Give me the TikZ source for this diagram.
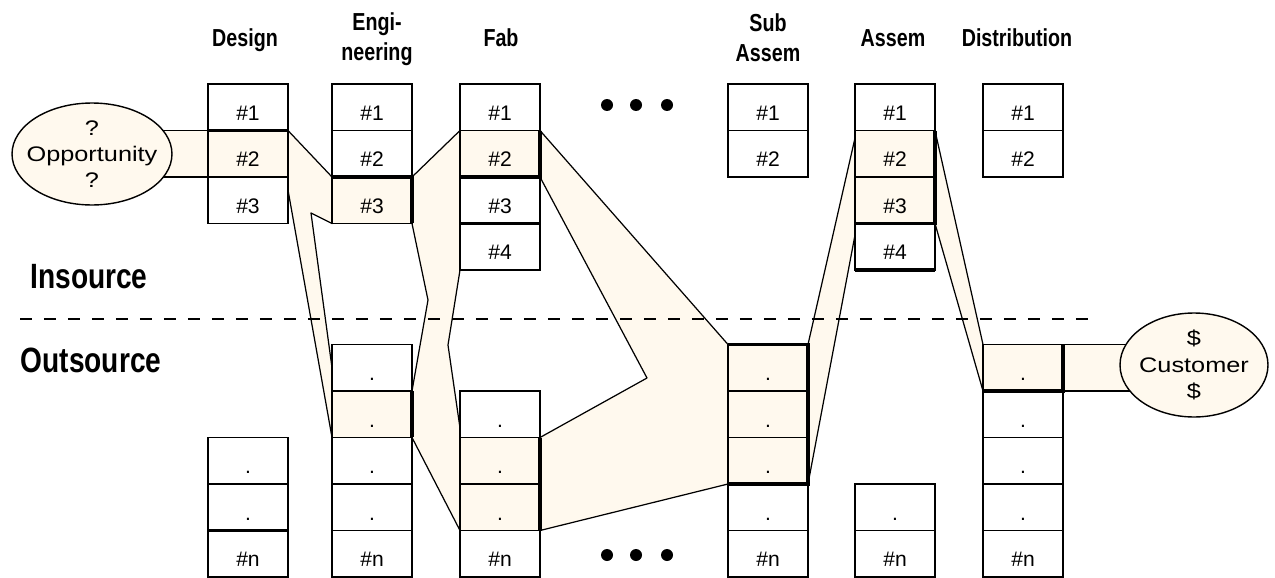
\documentclass[tikz,border=0pt]{standalone}
\usepackage{fontspec}
\setmainfont{Liberation Sans}
\newfontfamily\headfont{Liberation Sans}[FakeStretch=0.8]
\newfontfamily\ovalfont{Liberation Sans}[FakeStretch=1.2]
\usetikzlibrary{shapes.geometric,backgrounds}
\definecolor{cream}{HTML}{FFF9EE}

\begin{document}
\begin{tikzpicture}[x=0.02cm,y=-0.02cm,
  cell/.style={draw,line width=0.9pt,minimum width=1.6cm,minimum height=0.93cm,inner sep=0pt,outer sep=0pt,
    text height=15pt,text depth=0pt,font=\fontsize{12}{14}\selectfont},
  hot/.style={cell,fill=cream},
  flow/.style={fill=cream,draw,line width=0.7pt,line join=round},
  flowline/.style={line width=0.7pt},
  hi/.style={line width=2pt},
  head/.style={font=\headfont\bfseries\fontsize{14}{17}\selectfont,align=center},
  side/.style={font=\headfont\bfseries\fontsize{20}{24}\selectfont,anchor=base},
  oval/.style={ellipse,draw,line width=0.8pt,fill=cream,inner sep=-6pt,align=center,
    font=\ovalfont\fontsize{12}{15}\selectfont}]
\useasboundingbox (0,0) rectangle (1275,578);

% headings
\node[head,anchor=base] (hdes) at (245,47) {Design};
\node[head] (heng) at (377,39) {Engi-\\neering};
\node[head,anchor=base] (hfab) at (501,47) {Fab};
\node[head] (hsub) at (768,38) {Sub\\Assem};
\node[head,anchor=base] (hasm) at (893,47) {Assem};
\node[head,anchor=base] (hdst) at (1017,47) {Distribution};
\node[side] (ins) at (89,288) {Insource};
\node[side] (outs) at (91,372) {Outsource};

% design
\node[cell] (des1) at (248,107.25) {\#1};
\node[hot]  (des2) at (248,153.75) {\#2};
\node[cell] (des3) at (248,200.25) {\#3};
\node[cell] (desb1) at (248,460.75) {.};
\node[cell] (desb2) at (248,507.25) {.};
\node[cell] (desb3) at (248,553.75) {\#n};
% engineering
\node[cell] (eng1) at (372,107.25) {\#1};
\node[cell] (eng2) at (372,153.75) {\#2};
\node[hot]  (eng3) at (372,200.25) {\#3};
\node[cell] (engb1) at (372,367.75) {.};
\node[hot]  (engb2) at (372,414.25) {.};
\node[cell] (engb3) at (372,460.75) {.};
\node[cell] (engb4) at (372,507.25) {.};
\node[cell] (engb5) at (372,553.75) {\#n};
% fab
\node[cell] (fab1) at (500,107.25) {\#1};
\node[hot]  (fab2) at (500,153.75) {\#2};
\node[cell] (fab3) at (500,200.25) {\#3};
\node[cell] (fab4) at (500,246.75) {\#4};
\node[cell] (fabb1) at (500,414.25) {.};
\node[hot]  (fabb2) at (500,460.75) {.};
\node[hot]  (fabb3) at (500,507.25) {.};
\node[cell] (fabb4) at (500,553.75) {\#n};
% sub assem
\node[cell] (sub1) at (768,107.25) {\#1};
\node[cell] (sub2) at (768,153.75) {\#2};
\node[hot]  (subb1) at (768,367.75) {.};
\node[hot]  (subb2) at (768,414.25) {.};
\node[hot]  (subb3) at (768,460.75) {.};
\node[cell] (subb4) at (768,507.25) {.};
\node[cell] (subb5) at (768,553.75) {\#n};
% assem
\node[cell] (asm1) at (895,107.25) {\#1};
\node[hot]  (asm2) at (895,153.75) {\#2};
\node[hot]  (asm3) at (895,200.25) {\#3};
\node[cell] (asm4) at (895,246.75) {\#4};
\node[cell] (asmb1) at (895,507.25) {.};
\node[cell] (asmb2) at (895,553.75) {\#n};
% distribution
\node[cell] (dst1) at (1023,107.25) {\#1};
\node[cell] (dst2) at (1023,153.75) {\#2};
\node[hot]  (dstb1) at (1023,367.75) {.};
\node[cell] (dstb2) at (1023,414.25) {.};
\node[cell] (dstb3) at (1023,460.75) {.};
\node[cell] (dstb4) at (1023,507.25) {.};
\node[cell] (dstb5) at (1023,553.75) {\#n};

% ends
\node[oval,minimum width=3.2cm,minimum height=2.04cm] (opp) at (92,154) {?\\Opportunity\\?};
\node[oval,minimum width=2.96cm,minimum height=2.08cm] (cus) at (1194,365) {\$\\Customer\\\$};

\begin{pgfonlayer}{background}
% opportunity -> design
\fill[cream] (opp.center |- des2.north) rectangle (des2.south west);
\draw[flowline] (opp.center |- des2.north) -- (des2.north west) (opp.center |- des2.south) -- (des2.south west);
% design -> engineering
\filldraw[flow] (des2.north east) -- (eng3.north west) -- (eng3.south west) -- (311,213) -- (engb1.west)
  -- (engb2.south west) -- (288,190) -- cycle;
% engineering -> fab
\filldraw[flow] (eng3.north east) -- (fab2.north west) -- (fab4.south west) -- (448,345) -- (460,428)
  -- (fabb3.south west) -- (engb2.south east) -- (engb1.south east) -- (428,300) -- (eng3.south east) -- cycle;
% fab -> sub assem
\filldraw[flow] (fab2.north east) -- (subb1.north west) -- (subb3.south west) -- (fabb3.south east)
  -- (fabb1.south east) -- (647,378) -- (fab2.south east) -- cycle;
% sub assem -> assem
\filldraw[flow] (subb1.north east) -- (855,138) -- (855,235) -- (subb3.south east) -- cycle;
% assem -> distribution
\filldraw[flow] (asm2.north east) -- (dstb1.north west) -- (dstb1.south west) -- (asm3.south east) -- cycle;
% distribution -> customer
\fill[cream] (dstb1.north east) rectangle (cus.center |- dstb1.south);
\draw[flowline] (dstb1.north east) -- (cus.center |- dstb1.north) (dstb1.south east) -- (cus.center |- dstb1.south);
\end{pgfonlayer}

% heavy edges
\draw[hi] (des2.north west) -- (des2.north east);
\draw[hi] (desb2.south west) -- (desb2.south east);
\draw[hi] (eng3.north west) -- (eng3.north east) -- (eng3.south east);
\draw[hi] (engb2.north east) -- (engb2.south east);
\draw[hi] (fab2.north east) -- (fab2.south east) -- (fab2.south west);
\draw[hi] (fab3.south west) -- (fab3.south east);
\draw[hi] (fabb2.north east) -- (fabb3.south east);
\draw[hi] (subb1.north west) -- (subb1.north east) -- (subb3.south east) -- (subb3.south west);
\draw[hi] (asm2.north east) -- (asm3.south east) -- (asm3.south west);
\draw[hi] (asm4.south west) -- (asm4.south east);
\draw[hi] (dstb1.north east) -- (dstb1.south east) -- (dstb1.south west);

% insource / outsource split
\draw[dash pattern=on 0.24cm off 0.24cm,line width=0.8pt] (20,319) -- (1090,319);

% more stages
\foreach \x in {607,636,667} {
  \fill (\x,105) circle (0.12cm);
  \fill (\x,555) circle (0.12cm);
}
\end{tikzpicture}
\end{document}
